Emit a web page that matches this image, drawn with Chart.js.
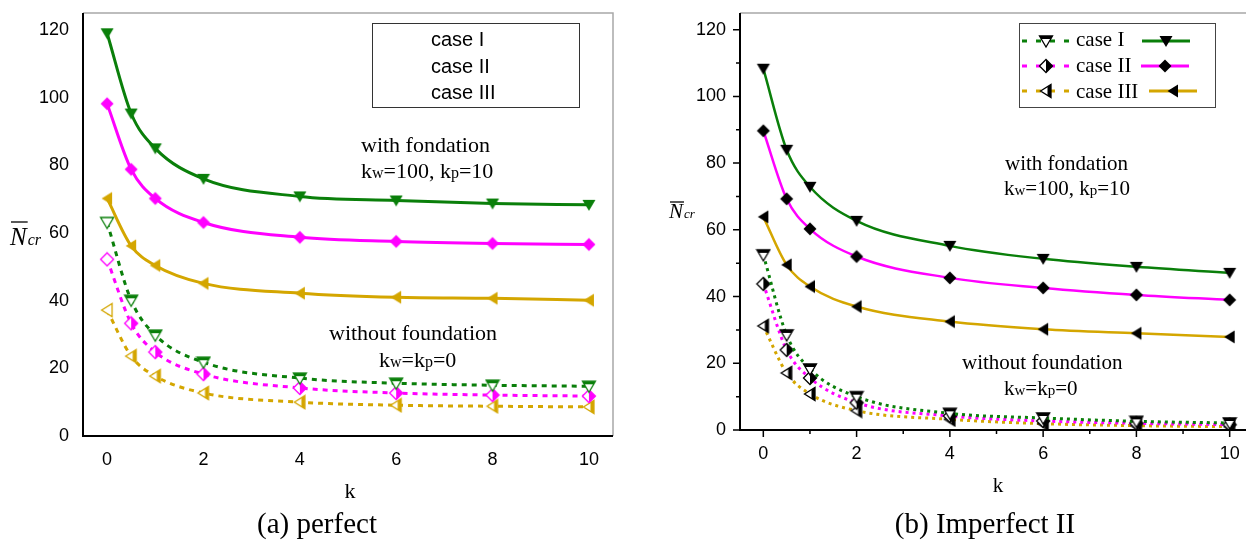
<!DOCTYPE html>
<html><head><meta charset="utf-8">
<script src="https://cdn.jsdelivr.net/npm/chart.js@4.4.1/dist/chart.umd.min.js"></script>
<style>
html,body{margin:0;padding:0;background:#fff;overflow:hidden;}
#wrap{position:relative;width:1246px;height:540px;overflow:hidden;}
#boxA{position:absolute;left:0;top:0;width:623px;height:540px;}
#boxB{position:absolute;left:623px;top:0;width:623px;height:540px;overflow:hidden;}
canvas{display:block;}
</style></head><body>
<div id="wrap">
  <div id="boxA"><canvas id="cA" width="623" height="540"></canvas></div>
  <div id="boxB"><canvas id="cB" width="640" height="540"></canvas></div>
</div>
<script>
// Load parameter k and tick values
const kValues = [0, 0.5, 1, 2, 4, 6, 8, 10];
const xTicks = [0, 2, 4, 6, 8, 10];
const xMinorTicks = [1, 3, 5, 7, 9];
const yTicks = [0, 20, 40, 60, 80, 100, 120];
const yMinorTicks = [10, 30, 50, 70, 90, 110];
const caseNames = ['case I', 'case II', 'case III'];

// (a) perfect: dimensionless critical load, with foundation (kw=100, kp=10)
const perfectWith1 = [119, 95.3, 85, 76, 70.8, 69.6, 68.7, 68.3];
const perfectWith2 = [98.2, 78.8, 70.2, 63.1, 58.7, 57.5, 56.9, 56.6];
const perfectWith3 = [70.2, 56.2, 50.4, 45.1, 42.2, 41, 40.7, 40.1];
// (a) perfect: without foundation
const perfectWithout1 = [63.1, 40.1, 29.8, 21.8, 17.1, 15.6, 15, 14.7];
const perfectWithout2 = [52.2, 33.3, 24.8, 18.3, 14.2, 12.7, 12.1, 11.8];
const perfectWithout3 = [37.2, 23.6, 17.7, 12.7, 10, 9.1, 8.8, 8.6];

// (b) Imperfect II: with foundation
const imperfWith1 = [108.3, 84, 72.9, 62.7, 55.2, 51.3, 48.9, 47.1];
const imperfWith2 = [89.7, 69.3, 60.3, 52, 45.6, 42.6, 40.5, 39];
const imperfWith3 = [63.9, 49.5, 43, 37, 32.5, 30.2, 29, 27.9];
// (b) Imperfect II: without foundation
const imperfWithout1 = [52.5, 28.5, 18.3, 10, 5, 3.6, 2.6, 2.1];
const imperfWithout2 = [43.8, 24, 15.6, 8.2, 4.2, 2.7, 2, 1.6];
const imperfWithout3 = [31.2, 17.1, 10.8, 5.8, 3.2, 1.9, 1.3, 1];

const GREEN = '#0a7f0a', MAGENTA = '#ff00ff', GOLD = '#d4a600';
const SERIF = "'Liberation Serif', 'Times New Roman', serif";
const SANS = "'Liberation Sans', Arial, sans-serif";

// Marker glyphs drawn once into small canvases and used as point styles
const SHAPES = {
  down: [[-6.5, -5], [6.5, -5], [0, 6]],
  diamond: [[0, -6.5], [6.5, 0], [0, 6.5], [-6.5, 0]],
  left: [[-5.5, 0], [5, -6.5], [5, 6.5]]
};
const HALF = { down: [-8, -8, 16, 6], diamond: [0, -8, 8, 16], left: [1.5, -8, 8, 16] };

function makeMarker(shape, color, style) {
  const c = document.createElement('canvas');
  c.width = 16; c.height = 16;
  const g = c.getContext('2d');
  const pts = SHAPES[shape];
  const path = () => {
    g.beginPath();
    pts.forEach(([px, py], i) => i ? g.lineTo(8 + px, 8 + py) : g.moveTo(8 + px, 8 + py));
    g.closePath();
  };
  if (style === 'filled') {
    path(); g.fillStyle = color; g.fill();
  } else {
    path(); g.fillStyle = '#fff'; g.fill();
    if (style === 'half') {
      g.save(); path(); g.clip();
      const [rx, ry, rw, rh] = HALF[shape];
      g.fillStyle = color; g.fillRect(8 + rx, 8 + ry, rw, rh);
      g.restore();
    }
    path(); g.strokeStyle = color; g.lineWidth = 1.3; g.stroke();
  }
  return c;
}

const toXY = arr => kValues.map((k, i) => ({ x: k, y: arr[i] }));

function solidSet(label, data, color, marker, width) {
  return {
    label, data: toXY(data), borderColor: color, backgroundColor: color,
    borderWidth: width, pointStyle: marker, pointRadius: 7,
    cubicInterpolationMode: 'monotone', fill: false
  };
}
function dashedSet(label, data, color, marker, width, dash) {
  return {
    label, data: toXY(data), borderColor: color, backgroundColor: color,
    borderWidth: width, borderDash: dash, pointStyle: marker, pointRadius: 7,
    cubicInterpolationMode: 'monotone', fill: false
  };
}

// text made of runs with different sizes sharing one baseline
function drawRuns(ctx, x, y, parts, align) {
  let total = 0;
  parts.forEach(([t, s]) => { ctx.font = s + 'px ' + SERIF; total += ctx.measureText(t).width; });
  let cx = align === 'center' ? x - total / 2 : x;
  ctx.textAlign = 'left'; ctx.textBaseline = 'alphabetic';
  parts.forEach(([t, s]) => {
    ctx.font = s + 'px ' + SERIF;
    ctx.fillText(t, cx, y);
    cx += ctx.measureText(t).width;
  });
}

function frameLines(ctx, a) {
  ctx.lineWidth = 1.5; ctx.strokeStyle = '#a8a8a8';
  ctx.beginPath();
  ctx.moveTo(a.left, a.top); ctx.lineTo(a.right, a.top); ctx.lineTo(a.right, a.bottom);
  ctx.stroke();
  ctx.lineWidth = 2; ctx.strokeStyle = '#000';
  ctx.beginPath();
  ctx.moveTo(a.left, a.top); ctx.lineTo(a.left, a.bottom); ctx.lineTo(a.right, a.bottom);
  ctx.stroke();
}

function yTitle(ctx, x, base, nSize, subSize, lineY) {
  ctx.fillStyle = '#000';
  ctx.textAlign = 'left'; ctx.textBaseline = 'alphabetic';
  ctx.font = 'italic ' + nSize + 'px ' + SERIF;
  ctx.fillText('N', x, base);
  const w = ctx.measureText('N').width;
  ctx.lineWidth = 1.3; ctx.strokeStyle = '#000';
  ctx.beginPath(); ctx.moveTo(x + 1, lineY); ctx.lineTo(x + w + 1, lineY); ctx.stroke();
  ctx.font = 'italic ' + subSize + 'px ' + SERIF;
  ctx.fillText('cr', x + w + 1, base);
}

function scalesFor(yWidth, xHeight) {
  return {
    x: {
      type: 'linear', min: -0.5, max: 10.5,
      grid: { display: false, drawTicks: false }, border: { display: false },
      ticks: { font: { family: SANS, size: 18 }, color: '#000', padding: 13 },
      afterBuildTicks: s => { s.ticks = xTicks.map(v => ({ value: v })); },
      afterFit: s => { s.height = xHeight; s.paddingLeft = 0; s.paddingRight = 0; }
    },
    y: {
      type: 'linear', min: 0, max: 125,
      grid: { display: false, drawTicks: false }, border: { display: false },
      ticks: { font: { family: SANS, size: 18 }, color: '#000', padding: 14 },
      afterBuildTicks: s => { s.ticks = yTicks.map(v => ({ value: v })); },
      afterFit: s => { s.width = yWidth; s.paddingTop = 0; s.paddingBottom = 0; }
    }
  };
}

// ---------- (a) perfect ----------
const aOpen = { down: makeMarker('down', GREEN, 'open'), diamond: makeMarker('diamond', MAGENTA, 'open'), left: makeMarker('left', GOLD, 'open') };
const aHalf = { down: makeMarker('down', GREEN, 'half'), diamond: makeMarker('diamond', MAGENTA, 'half'), left: makeMarker('left', GOLD, 'half') };
const aFull = { down: makeMarker('down', GREEN, 'filled'), diamond: makeMarker('diamond', MAGENTA, 'filled'), left: makeMarker('left', GOLD, 'filled') };
const firstOpen = key => kValues.map((k, i) => i === 0 ? aOpen[key] : aHalf[key]);

const overlayA = {
  id: 'overlayA',
  afterDraw(chart) {
    const ctx = chart.ctx, a = chart.chartArea;
    ctx.save();
    frameLines(ctx, a);
    // legend box
    ctx.lineWidth = 1; ctx.strokeStyle = '#333';
    ctx.strokeRect(372.5, 23.5, 207, 84);
    ctx.fillStyle = '#000'; ctx.font = '20px ' + SANS;
    ctx.textAlign = 'left'; ctx.textBaseline = 'alphabetic';
    caseNames.forEach((t, i) => ctx.fillText(t, 431, 46 + i * 26.5));
    // annotations
    drawRuns(ctx, 361, 152, [['with fondation', 22]], 'left');
    drawRuns(ctx, 361, 178, [['k', 22], ['w', 16], ['=100, k', 22], ['p', 16], ['=10', 22]], 'left');
    drawRuns(ctx, 329, 340, [['without foundation', 22]], 'left');
    drawRuns(ctx, 379, 367, [['k', 22], ['w', 16], ['=k', 22], ['p', 16], ['=0', 22]], 'left');
    // axis titles and caption
    drawRuns(ctx, 350, 498, [['k', 22]], 'center');
    drawRuns(ctx, 317, 533, [['(a) perfect', 29]], 'center');
    yTitle(ctx, 10, 245, 25, 16, 222);
    ctx.restore();
  }
};

new Chart(document.getElementById('cA'), {
  type: 'line',
  data: {
    datasets: [
      solidSet(caseNames[0], perfectWith1, GREEN, aFull.down, 3),
      solidSet(caseNames[1], perfectWith2, MAGENTA, aFull.diamond, 3),
      solidSet(caseNames[2], perfectWith3, GOLD, aFull.left, 3),
      dashedSet(caseNames[0], perfectWithout1, GREEN, firstOpen('down'), 3, [5, 5]),
      dashedSet(caseNames[1], perfectWithout2, MAGENTA, firstOpen('diamond'), 3, [5, 5]),
      dashedSet(caseNames[2], perfectWithout3, GOLD, firstOpen('left'), 3, [5, 5])
    ]
  },
  options: {
    responsive: false, animation: false, devicePixelRatio: 1,
    layout: { padding: { left: 0, top: 13, right: 7, bottom: 0 } },
    plugins: { legend: { display: false }, tooltip: { enabled: false } },
    scales: scalesFor(83, 104)
  },
  plugins: [overlayA]
});

// ---------- (b) Imperfect II ----------
const BLACK = '#000';
const bHalf = { down: makeMarker('down', BLACK, 'half'), diamond: makeMarker('diamond', BLACK, 'half'), left: makeMarker('left', BLACK, 'half') };
const bFull = { down: makeMarker('down', BLACK, 'filled'), diamond: makeMarker('diamond', BLACK, 'filled'), left: makeMarker('left', BLACK, 'filled') };
const OFF = 623; // page offset of this canvas

const overlayB = {
  id: 'overlayB',
  afterDraw(chart) {
    const ctx = chart.ctx, a = chart.chartArea;
    const { x, y } = chart.scales;
    ctx.save();
    frameLines(ctx, a);
    // outward tick marks
    ctx.strokeStyle = '#000'; ctx.lineWidth = 1.5;
    ctx.beginPath();
    xTicks.forEach(v => { const p = x.getPixelForValue(v); ctx.moveTo(p, a.bottom); ctx.lineTo(p, a.bottom + 7); });
    xMinorTicks.forEach(v => { const p = x.getPixelForValue(v); ctx.moveTo(p, a.bottom); ctx.lineTo(p, a.bottom + 4); });
    yTicks.forEach(v => { const p = y.getPixelForValue(v); ctx.moveTo(a.left, p); ctx.lineTo(a.left - 7, p); });
    yMinorTicks.forEach(v => { const p = y.getPixelForValue(v); ctx.moveTo(a.left, p); ctx.lineTo(a.left - 4, p); });
    ctx.stroke();
    // legend
    ctx.lineWidth = 1; ctx.strokeStyle = '#444';
    ctx.strokeRect(1019.5 - OFF, 23.5, 196, 84);
    const rows = [
      { c: GREEN, open: bHalf.down, full: bFull.down, ly: 41, base: 46, s0: 1142 },
      { c: MAGENTA, open: bHalf.diamond, full: bFull.diamond, ly: 66, base: 72, s0: 1141 },
      { c: GOLD, open: bHalf.left, full: bFull.left, ly: 91, base: 98, s0: 1149 }
    ];
    rows.forEach((r, i) => {
      ctx.strokeStyle = r.c; ctx.lineWidth = 3;
      ctx.setLineDash([5, 9]);
      ctx.beginPath(); ctx.moveTo(1022 - OFF, r.ly); ctx.lineTo(1070 - OFF, r.ly); ctx.stroke();
      ctx.setLineDash([]);
      ctx.drawImage(r.open, 1046 - OFF - 8, r.ly - 8);
      ctx.beginPath(); ctx.moveTo(r.s0 - OFF, r.ly); ctx.lineTo(r.s0 + 48 - OFF, r.ly); ctx.stroke();
      ctx.drawImage(r.full, r.s0 + 24 - OFF - 8, r.ly - 8);
      ctx.fillStyle = '#000';
      drawRuns(ctx, 1076 - OFF, r.base, [[caseNames[i], 21]], 'left');
    });
    ctx.fillStyle = '#000';
    drawRuns(ctx, 1005 - OFF, 170, [['with fondation', 21]], 'left');
    drawRuns(ctx, 1004 - OFF, 195, [['k', 21], ['w', 15], ['=100, k', 21], ['p', 15], ['=10', 21]], 'left');
    drawRuns(ctx, 962 - OFF, 369, [['without foundation', 21]], 'left');
    drawRuns(ctx, 1004 - OFF, 395, [['k', 21], ['w', 15], ['=k', 21], ['p', 15], ['=0', 21]], 'left');
    drawRuns(ctx, 998 - OFF, 492, [['k', 21]], 'center');
    drawRuns(ctx, 985 - OFF, 533, [['(b) Imperfect II', 29]], 'center');
    yTitle(ctx, 669 - OFF, 218, 21, 13, 202);
    ctx.restore();
  }
};

new Chart(document.getElementById('cB'), {
  type: 'line',
  data: {
    datasets: [
      solidSet(caseNames[0], imperfWith1, GREEN, bFull.down, 2.5),
      solidSet(caseNames[1], imperfWith2, MAGENTA, bFull.diamond, 2.5),
      solidSet(caseNames[2], imperfWith3, GOLD, bFull.left, 2.5),
      dashedSet(caseNames[0], imperfWithout1, GREEN, bHalf.down, 3, [3, 4]),
      dashedSet(caseNames[1], imperfWithout2, MAGENTA, bHalf.diamond, 3, [3, 4]),
      dashedSet(caseNames[2], imperfWithout3, GOLD, bHalf.left, 3, [3, 4])
    ]
  },
  options: {
    responsive: false, animation: false, devicePixelRatio: 1,
    layout: { padding: { left: 0, top: 13, right: 6, bottom: 0 } },
    plugins: { legend: { display: false }, tooltip: { enabled: false } },
    scales: scalesFor(117, 110)
  },
  plugins: [overlayB]
});
</script>
</body></html>
